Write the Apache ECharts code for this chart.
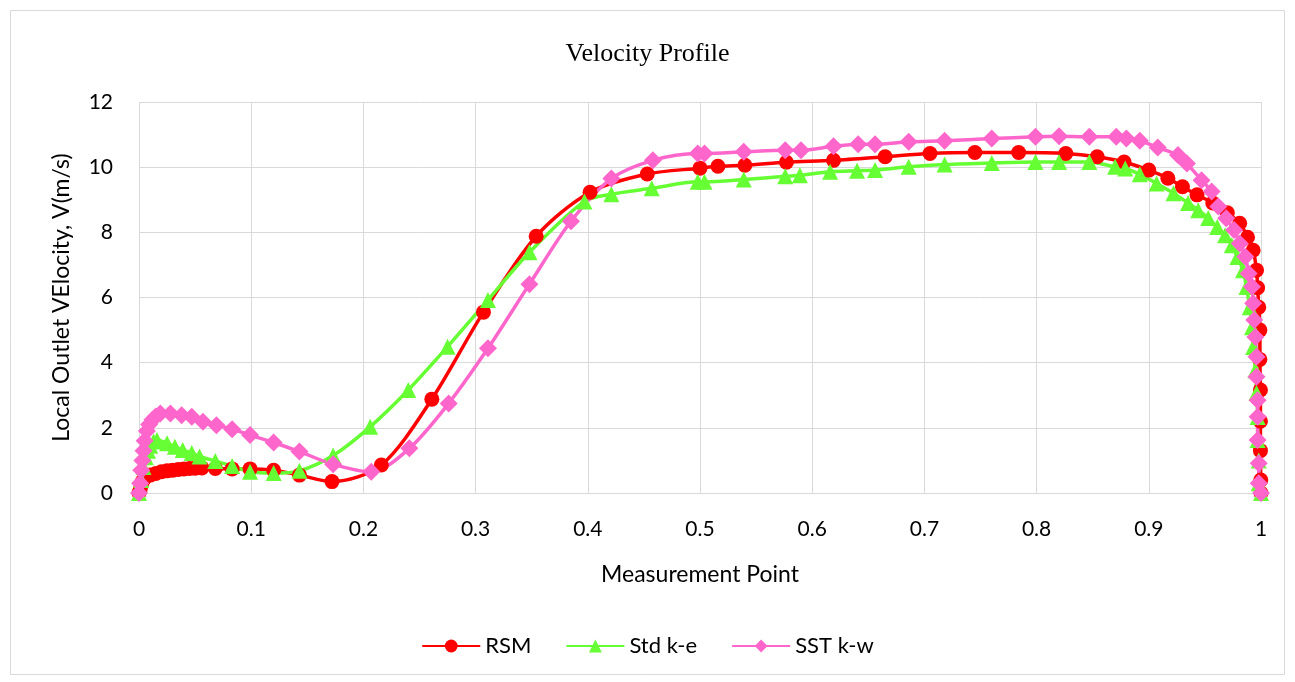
<!DOCTYPE html>
<html>
<head>
<meta charset="utf-8">
<script src="https://cdn.jsdelivr.net/npm/echarts@6/dist/echarts.min.js"></script>
<style>
  html, body { margin: 0; padding: 0; background: #fff; }
  #chart { width: 1295px; height: 682px; }
</style>
</head>
<body>
<div id="chart"></div>
<script>
const xTicks = ['0', '0.1', '0.2', '0.3', '0.4', '0.5', '0.6', '0.7', '0.8', '0.9', '1']

const rsmX = [0, 0.001, 0.002, 0.003, 0.005, 0.01, 0.015, 0.02, 0.025, 0.03, 0.035, 0.04, 0.045, 0.05, 0.056, 0.068, 0.083, 0.099, 0.12, 0.143, 0.172, 0.216, 0.261, 0.307, 0.354, 0.402, 0.453, 0.5, 0.516, 0.54, 0.577, 0.619, 0.665, 0.705, 0.745, 0.784, 0.826, 0.854, 0.878, 0.9, 0.917, 0.93, 0.943, 0.957, 0.97, 0.981, 0.988, 0.993, 0.996, 0.997, 0.998, 0.999, 0.999, 0.9995, 0.9995, 0.9995, 0.9998, 1]
const rsmY = [0, 0.1, 0.25, 0.35, 0.45, 0.55, 0.6, 0.65, 0.68, 0.7, 0.72, 0.74, 0.75, 0.76, 0.77, 0.75, 0.74, 0.74, 0.7, 0.55, 0.35, 0.86, 2.88, 5.55, 7.88, 9.23, 9.79, 9.97, 10.03, 10.06, 10.15, 10.21, 10.32, 10.42, 10.45, 10.45, 10.42, 10.32, 10.16, 9.91, 9.66, 9.4, 9.15, 8.9, 8.6, 8.28, 7.85, 7.45, 6.84, 6.3, 5.7, 5.0, 4.1, 3.16, 2.2, 1.3, 0.4, 0]

const kepsX = [0, 0.002, 0.004, 0.006, 0.008, 0.01, 0.013, 0.016, 0.025, 0.032, 0.039, 0.047, 0.054, 0.068, 0.083, 0.099, 0.12, 0.143, 0.173, 0.206, 0.24, 0.275, 0.311, 0.348, 0.397, 0.421, 0.457, 0.498, 0.504, 0.539, 0.576, 0.589, 0.616, 0.64, 0.656, 0.686, 0.718, 0.76, 0.799, 0.82, 0.847, 0.87, 0.879, 0.892, 0.907, 0.922, 0.935, 0.944, 0.953, 0.961, 0.968, 0.974, 0.979, 0.984, 0.987, 0.99, 0.992, 0.993, 0.995, 0.996, 0.997, 0.997, 0.998, 0.998, 1]
const kepsY = [0, 0.4, 0.8, 1.1, 1.3, 1.45, 1.58, 1.63, 1.53, 1.42, 1.32, 1.23, 1.12, 0.98, 0.83, 0.65, 0.61, 0.68, 1.15, 2.03, 3.16, 4.49, 5.92, 7.39, 8.95, 9.17, 9.35, 9.55, 9.55, 9.62, 9.72, 9.75, 9.86, 9.89, 9.91, 10.01, 10.08, 10.13, 10.16, 10.16, 10.16, 10.01, 9.96, 9.78, 9.5, 9.2, 8.9, 8.68, 8.44, 8.16, 7.91, 7.6, 7.24, 6.84, 6.32, 5.7, 5.09, 4.48, 3.77, 3.07, 2.33, 1.63, 1.0, 0.3, 0]

const sstX = [0, 0.001, 0.002, 0.003, 0.004, 0.005, 0.007, 0.009, 0.012, 0.015, 0.019, 0.028, 0.038, 0.047, 0.057, 0.069, 0.083, 0.099, 0.12, 0.143, 0.173, 0.207, 0.241, 0.276, 0.311, 0.348, 0.385, 0.421, 0.458, 0.498, 0.504, 0.539, 0.576, 0.59, 0.619, 0.641, 0.656, 0.686, 0.718, 0.76, 0.799, 0.82, 0.847, 0.871, 0.88, 0.892, 0.908, 0.926, 0.934, 0.947, 0.956, 0.962, 0.969, 0.976, 0.981, 0.986, 0.989, 0.992, 0.993, 0.994, 0.995, 0.996, 0.996, 0.997, 0.997, 0.997, 0.998, 0.998, 1]
const sstY = [0, 0.3, 0.7, 1.0, 1.3, 1.6, 1.9, 2.1, 2.25, 2.35, 2.44, 2.44, 2.39, 2.34, 2.19, 2.08, 1.96, 1.78, 1.55, 1.27, 0.88, 0.65, 1.37, 2.75, 4.44, 6.41, 8.34, 9.65, 10.21, 10.42, 10.42, 10.47, 10.52, 10.52, 10.64, 10.7, 10.7, 10.78, 10.81, 10.88, 10.93, 10.95, 10.93, 10.93, 10.88, 10.81, 10.6, 10.37, 10.11, 9.6, 9.25, 8.79, 8.43, 8.07, 7.66, 7.25, 6.74, 6.33, 5.82, 5.31, 4.79, 4.18, 3.57, 2.85, 2.34, 1.63, 0.91, 0.3, 0]

const pairs = (xs, ys) => xs.map((x, i) => [x, ys[i]])

const font = 'Lato, "Open Sans", sans-serif'

let chart = echarts.init(document.getElementById('chart'))
chart.setOption({
  backgroundColor: '#fff',
  animation: false,
  graphic: [{
    type: 'rect',
    shape: { x: 10.5, y: 10.5, width: 1274, height: 664 },
    style: { fill: 'none', stroke: '#d9d9d9', lineWidth: 1 }
  }],
  title: {
    text: 'Velocity Profile',
    left: 'center',
    top: 36,
    textStyle: { fontFamily: '"Liberation Serif", serif', fontSize: 26, fontWeight: 'normal', color: '#000' }
  },
  legend: {
    bottom: 20,
    left: 'center',
    itemWidth: 58,
    itemHeight: 16,
    itemGap: 34,
    textStyle: { fontFamily: font, fontSize: 22, color: '#000' },
    data: ['RSM', 'Std k-e', 'SST k-w']
  },
  grid: { left: 139, right: 34, top: 102, bottom: 189 },
  xAxis: {
    type: 'value',
    min: 0,
    max: 1,
    interval: 0.1,
    name: 'Measurement Point',
    nameLocation: 'middle',
    nameGap: 70,
    nameTextStyle: { fontFamily: font, fontSize: 23, color: '#000' },
    axisLine: { lineStyle: { color: '#d9d9d9', width: 1 } },
    axisTick: { show: false },
    axisLabel: {
      fontFamily: font, fontSize: 21, color: '#000', margin: 26,
      formatter: v => xTicks[Math.round(v * 10)]
    },
    splitLine: { lineStyle: { color: '#d9d9d9', width: 1 } }
  },
  yAxis: {
    type: 'value',
    min: 0,
    max: 12,
    interval: 2,
    name: 'Local Outlet VElocity, V(m/s)',
    nameLocation: 'middle',
    nameGap: 66,
    nameTextStyle: { fontFamily: font, fontSize: 23, color: '#000' },
    axisLine: { show: false },
    axisTick: { show: false },
    axisLabel: { fontFamily: font, fontSize: 21, color: '#000', margin: 26 },
    splitLine: { lineStyle: { color: '#d9d9d9', width: 1 } }
  },
  series: [
    {
      name: 'RSM',
      type: 'line',
      data: pairs(rsmX, rsmY),
      smooth: 0.3,
      symbol: 'circle',
      symbolSize: 15,
      lineStyle: { color: '#ff0000', width: 3.5 },
      itemStyle: { color: '#ff0000' }
    },
    {
      name: 'Std k-e',
      type: 'line',
      data: pairs(kepsX, kepsY),
      smooth: 0.3,
      symbol: 'triangle',
      symbolSize: 16,
      lineStyle: { color: '#66ff33', width: 3.5 },
      itemStyle: { color: '#66ff33' }
    },
    {
      name: 'SST k-w',
      type: 'line',
      data: pairs(sstX, sstY),
      smooth: 0.3,
      symbol: 'diamond',
      symbolSize: 18,
      lineStyle: { color: '#ff66cc', width: 3.5 },
      itemStyle: { color: '#ff66cc' }
    }
  ]
})

window.addEventListener('resize', () => {
  chart.resize()
})
</script>
</body>
</html>
